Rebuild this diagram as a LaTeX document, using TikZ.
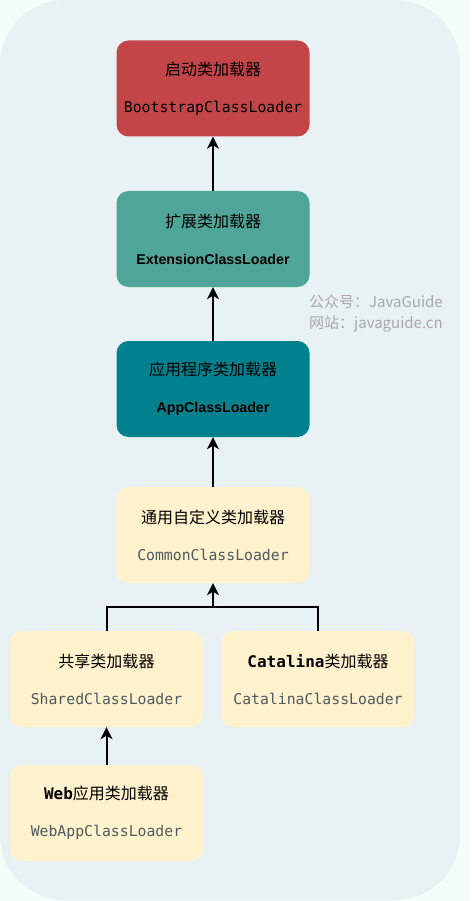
\documentclass[tikz,border=0pt]{standalone}
\usepackage{fontspec}
\setmainfont{Liberation Sans}
\setmonofont{DejaVu Sans Mono}
\newfontfamily\cjk{Noto Sans CJK SC}
\usepackage{tikz}
\usetikzlibrary{arrows.meta,positioning}
\definecolor{bootred}{HTML}{C34547}
\definecolor{extgreen}{HTML}{4FA597}
\definecolor{appteal}{HTML}{00818D}
\definecolor{cream}{HTML}{FFF2CC}
\definecolor{panel}{HTML}{E8F2F4}
\definecolor{outside}{HTML}{F5FDF8}
\definecolor{subgray}{HTML}{4F5A60}
\definecolor{wmgray}{HTML}{A8A8A8}
\tikzset{
  loader/.style={rectangle, rounded corners=12pt, minimum width=193pt, minimum height=96pt,
    inner sep=0pt, align=center, font=\fontsize{15}{37}\selectfont},
  up/.style={-{Stealth[length=12pt,width=12pt,inset=3.5pt]}, line width=2pt},
  joint/.style={line width=2pt}
}
\newcommand{\zh}[1]{{\cjk\fontsize{16}{37}\selectfont #1}}
\newcommand{\mono}[1]{{\ttfamily\fontsize{14.8}{37}\selectfont #1}}
\begin{document}
\begin{tikzpicture}[x=1pt,y=-1pt]
\fill[outside] (0,0) rectangle (471,901);
\useasboundingbox (0,0) rectangle (471,901);
\fill[panel, rounded corners=65pt] (0,0) rectangle (460,900);

% chain to the top
\node[loader, fill=bootred] (boot) at (213,88.5)
  {\zh{启动类加载器}\\ \mono{BootstrapClassLoader}};
\node[loader, fill=extgreen] (ext) at (213,239)
  {\zh{扩展类加载器}\\ {\bfseries\fontsize{14.2}{37}\selectfont ExtensionClassLoader}};
\node[loader, fill=appteal] (app) at (213,389)
  {\zh{应用程序类加载器}\\ {\bfseries\fontsize{14.2}{37}\selectfont AppClassLoader}};
\node[loader, fill=cream] (common) at (213,535)
  {\zh{通用自定义类加载器}\\ \textcolor{subgray}{\mono{CommonClassLoader}}};
\node[loader, fill=cream] (shared) at (106.5,679)
  {\zh{共享类加载器}\\ \textcolor{subgray}{\mono{SharedClassLoader}}};
\node[loader, fill=cream] (catalina) at (318,679)
  {{\ttfamily\bfseries\fontsize{16}{37}\selectfont Catalina}\zh{类加载器}\\ \textcolor{subgray}{\mono{CatalinaClassLoader}}};
\node[loader, fill=cream] (webapp) at (106.5,813)
  {{\ttfamily\bfseries\fontsize{16}{37}\selectfont Web}\zh{应用类加载器}\\ \textcolor{subgray}{\mono{WebAppClassLoader}}};

% watermark
\node[anchor=north west, align=left, inner sep=0pt, text=wmgray,
  font=\cjk\fontsize{15}{21}\selectfont] (wm) at (309,295)
  {公众号：JavaGuide\\网站：javaguide.cn};

\draw[up] (ext) -- (boot);
\draw[up] (app) -- (ext);
\draw[up] (common) -- (app);
\coordinate (j) at (213,607);
\draw[joint] (shared.north) |- (j) -| (catalina.north);
\draw[up] (j) -- (common.south);
\draw[up] (webapp) -- (shared);
\end{tikzpicture}
\end{document}
